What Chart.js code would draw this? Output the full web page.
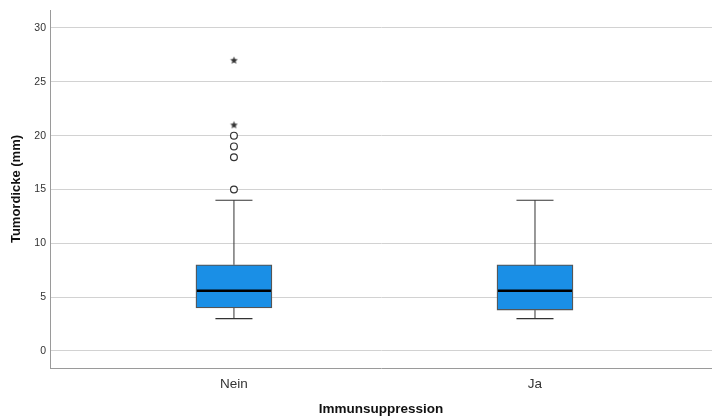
<!DOCTYPE html>
<html>
<head>
<meta charset="utf-8">
<script src="https://cdn.jsdelivr.net/npm/chart.js@4"></script>
<style>
html,body{margin:0;padding:0;background:#fff;overflow:hidden;}
#wrap{width:712px;height:418px;position:relative;overflow:hidden;}
canvas{display:block;}
</style>
</head>
<body>
<div id="wrap"><canvas id="c" width="712" height="418"></canvas></div>
<script>
// ---- data ----
const categories = ['Nein', 'Ja'];
const whiskerLow = [3, 3];
const q1 = [4, 3.8];
const median = [5.6, 5.6];
const q3 = [8, 8];
const whiskerHigh = [14, 14];
const outliersCircle = [[15, 18, 19, 20], []];
const outliersStar = [[21, 27], []];
const yTicks = [0, 5, 10, 15, 20, 25, 30];

// ---- styles ----
const boxHalf = 0.126;
const capHalf = 0.0615;
const lineColor = '#333333';

function seg(x1, y1, x2, y2, color, width, order) {
  return {
    type: 'scatter', showLine: true, order: order,
    data: [{x: x1, y: y1}, {x: x2, y: y2}],
    borderColor: color, borderWidth: width, pointRadius: 0, pointHoverRadius: 0,
    fill: false
  };
}

// filled star glyph for extreme outliers
const starCanvas = document.createElement('canvas');
starCanvas.width = 9; starCanvas.height = 9;
(function(){
  const g = starCanvas.getContext('2d');
  g.fillStyle = '#333';
  g.beginPath();
  for (let i = 0; i < 10; i++) {
    const r = i % 2 === 0 ? 4.0 : 1.8;
    const a = -Math.PI / 2 + i * Math.PI / 5;
    const px = 4.5 + r * Math.cos(a), py = 4.8 + r * Math.sin(a);
    if (i === 0) g.moveTo(px, py); else g.lineTo(px, py);
  }
  g.closePath(); g.fill();
})();

const datasets = [];
datasets.push({
  type: 'bar', order: 5,
  data: categories.map((c, i) => ({x: i, y: [q1[i], q3[i]]})),
  backgroundColor: '#1a8fe6', borderColor: '#555555', borderWidth: 1.3,
  borderSkipped: false, barThickness: 76
});
categories.forEach((c, i) => {
  datasets.push(seg(i, q3[i], i, whiskerHigh[i], lineColor, 1, 8));
  datasets.push(seg(i, whiskerLow[i], i, q1[i], lineColor, 1, 8));
  datasets.push(seg(i - capHalf, whiskerHigh[i], i + capHalf, whiskerHigh[i], lineColor, 1.2, 8));
  datasets.push(seg(i - capHalf, whiskerLow[i], i + capHalf, whiskerLow[i], lineColor, 1.2, 8));
  datasets.push(seg(i - boxHalf + 0.003, median[i], i + boxHalf - 0.003, median[i], '#000000', 2.6, 1));
});
datasets.push({
  type: 'scatter', order: 0,
  data: outliersCircle.flatMap((arr, i) => arr.map(v => ({x: i, y: v}))),
  pointStyle: 'circle', pointRadius: 3.4, borderWidth: 1.2,
  borderColor: '#333', backgroundColor: '#fff'
});
datasets.push({
  type: 'scatter', order: 0,
  data: outliersStar.flatMap((arr, i) => arr.map(v => ({x: i, y: v}))),
  pointStyle: starCanvas, pointRadius: 4
});

new Chart(document.getElementById('c'), {
  type: 'scatter',
  data: {datasets: datasets},
  options: {
    responsive: false, animation: false,
    layout: {autoPadding: false, padding: {top: 10, right: 0, left: 0, bottom: 0}},
    plugins: {legend: {display: false}, tooltip: {enabled: false}},
    scales: {
      x: {
        type: 'linear', min: -0.611, max: 1.588, offset: false,
        afterBuildTicks: s => { s.ticks = categories.map((c, i) => ({value: i})); },
        afterFit: s => { s.height = 50; s.paddingLeft = 0; s.paddingRight = 0; },
        ticks: {
          callback: v => categories[v] !== undefined ? categories[v] : '',
          font: {family: 'Liberation Sans', size: 13.5}, color: '#333', padding: 8
        },
        grid: {display: false, drawTicks: false},
        border: {display: true, color: '#9a9a9a', width: 1},
        title: {display: true, text: 'Immunsuppression', font: {family: 'Liberation Sans', size: 13.5, weight: 'bold'}, color: '#111', padding: {top: 0, bottom: 1}}
      },
      y: {
        type: 'linear', min: -1.58, max: 31.67,
        afterBuildTicks: s => { s.ticks = yTicks.map(v => ({value: v})); },
        afterFit: s => { s.width = 50; s.paddingTop = 0; s.paddingBottom = 0; },
        ticks: {font: {family: 'Liberation Sans', size: 10.5}, color: '#333', padding: 4},
        grid: {color: '#d2d2d2', lineWidth: 1, drawTicks: false},
        border: {display: true, color: '#9a9a9a', width: 1},
        title: {display: true, text: 'Tumordicke (mm)', font: {family: 'Liberation Sans', size: 13, weight: 'bold'}, color: '#111', padding: {top: 9, bottom: 0}}
      }
    }
  }
});
</script>
</body>
</html>
